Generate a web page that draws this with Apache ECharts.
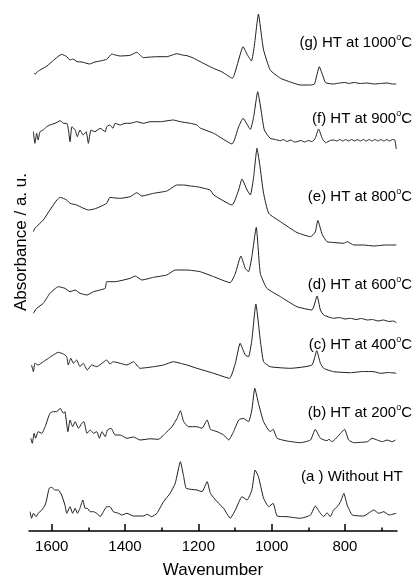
<!DOCTYPE html>
<html>
<head>
<meta charset="utf-8">
<script src="https://cdn.jsdelivr.net/npm/echarts@6/dist/echarts.min.js"></script>
<style>
  html, body { margin: 0; padding: 0; background: #fff; }
  #chart { width: 417px; height: 581px; }
</style>
</head>
<body>
<div id="chart"></div>
<script>
// FTIR spectra, [wavenumber, absorbance above own baseline] (a.u.)
var specG = [[1648,10.7],[1644,10],[1640,12],[1632,14],[1613,18],[1591,25],[1573,29.7],[1565,28.5],[1561,28],[1550,24],[1542,25],[1531,22.3],[1517,22],[1497,20],[1482,22],[1468,23],[1450,24.7],[1436,30],[1427,29],[1413,28],[1386,28.7],[1368,31.7],[1359,29],[1350,26.3],[1331,27],[1313,27.3],[1286,27.3],[1271,29],[1258,30.3],[1244,29],[1231,28.3],[1214,26],[1195,22.3],[1159,15.7],[1135,12],[1107,5.7],[1094,19],[1078,37.3],[1066,29],[1055,23],[1047,39],[1036,70],[1028,49],[1022,34],[1004,14],[976,5.7],[949,2],[922,-1],[894,-1],[883,0],[870,17.3],[861,9],[853,1.3],[831,0],[815,1],[799,1.5],[790,0.5],[775,1.5],[758,0.5],[740,1],[720,0],[703,0.5],[685,1],[670,0],[660,0]];
var specF = [[1650,8.3],[1646,-3.3],[1641,6.7],[1637,0],[1632,8.3],[1623,10],[1614,13.3],[1605,15],[1591,16.7],[1577,19.3],[1568,16.7],[1559,16.7],[1555,11.7],[1550,-1.7],[1545,13.3],[1536,10],[1530,3.3],[1523,10],[1514,5],[1506,8.3],[1500,-3.3],[1493,10],[1482,8.3],[1468,11.7],[1454,8.3],[1450,13.3],[1441,15],[1433,11.7],[1427,16.7],[1413,15],[1400,16.7],[1386,16.7],[1368,18.3],[1350,16.7],[1331,18.3],[1304,18.3],[1268,20],[1249,18.3],[1222,16.7],[1204,15],[1195,12],[1158,6.7],[1108,-4],[1090,13.3],[1078,21.7],[1058,10.7],[1049,23.3],[1038,48.3],[1031,35],[1020,10],[1004,1.7],[990,0.5],[976,-0.7],[968,0.5],[958,-1.5],[948,0],[938,-2],[931,-1.7],[920,-0.5],[910,-2],[900,-0.5],[890,-1.7],[881,1.7],[872,11],[862,1.7],[853,-2.7],[840,-0.5],[831,0],[822,-1],[814,0.5],[806,-1],[798,0.5],[790,-1],[782,0.5],[774,-1],[766,0.5],[758,-1],[750,0.5],[742,-1],[734,0.5],[726,-1],[718,0.5],[710,-1],[702,0.5],[694,-1],[686,0.5],[678,-1],[670,0.5],[664,0],[660,-9]];
var specE = [[1650,13.3],[1646,16.7],[1623,25],[1605,35],[1586,45],[1577,47.7],[1559,45],[1550,41.7],[1532,40],[1515,37],[1500,35],[1484,36],[1468,38.3],[1450,41.7],[1441,47.7],[1427,47],[1413,46.7],[1386,48.3],[1368,52.3],[1354,49],[1322,51.7],[1286,54],[1258,60],[1240,60],[1222,59],[1204,58.3],[1168,55],[1158,50],[1108,40],[1090,55],[1081,66],[1067,55],[1058,50],[1049,68.3],[1040,96.7],[1033,81.7],[1022,51.7],[1008,31.7],[976,23.3],[931,12.5],[894,8.3],[881,13],[874,24.5],[862,10.5],[849,3.3],[830,2.5],[803,1.7],[794,3.3],[776,0],[750,0],[721,-1],[690,0],[660,0]];
var specD = [[1650,6.7],[1641,11.7],[1623,16.7],[1605,26.7],[1582,33.3],[1564,31.7],[1550,28.3],[1536,30],[1523,26.7],[1504,25],[1486,28.3],[1468,30],[1454,31.7],[1450,38.3],[1427,38.3],[1404,40],[1386,41.7],[1372,44],[1354,40],[1322,42.7],[1286,45],[1263,50],[1231,50],[1195,48.3],[1158,43.3],[1113,37.3],[1099,46.7],[1084,64],[1072,51.7],[1063,48.3],[1054,63.3],[1042,92.7],[1031,46.7],[1013,31.7],[976,23.3],[931,13.3],[890,10],[876,24],[867,10],[858,5],[831,1.7],[815,2.5],[800,1],[785,1.7],[770,0.5],[755,1.5],[739,0],[725,0.5],[710,-1],[695,0],[680,-1.5],[668,-1],[660,-2.7]];
var specC = [[1655,7],[1650,0.3],[1646,8.7],[1637,7],[1623,10.3],[1609,13.7],[1596,17],[1582,19.7],[1568,18],[1559,15.3],[1555,7],[1548,13.7],[1541,8.7],[1532,12],[1523,5.3],[1514,8.7],[1503,2],[1491,7],[1477,5.3],[1463,8.7],[1450,12],[1441,8],[1432,10.3],[1413,8.7],[1395,7],[1377,10.3],[1359,3.7],[1322,5.3],[1295,7],[1268,10.3],[1249,8.7],[1231,7],[1204,3.7],[1158,-1.3],[1115,-6.3],[1099,8.7],[1086,28.7],[1072,17],[1063,15.3],[1054,32],[1043,68],[1031,32],[1022,10.3],[1004,5.3],[949,3.7],[890,7],[877,21.3],[867,8.7],[858,3.7],[831,0.3],[785,-0.7],[750,0.5],[721,0.3],[703,-1.3],[680,-0.5],[660,-1.3]];
var specB = [[1657,3.7],[1653,-1.3],[1648,8.7],[1644,3.7],[1637,10.3],[1627,8.7],[1618,15.3],[1605,28.7],[1596,30.3],[1586,30.3],[1577,33.7],[1568,28.7],[1564,30.3],[1556,10.3],[1550,22],[1543,15.3],[1536,20.3],[1527,13.7],[1518,18.7],[1512,20.3],[1504,8.7],[1495,12],[1486,8.7],[1477,10.3],[1470,3.7],[1463,10.3],[1454,5.3],[1448,12],[1438,13.7],[1427,7],[1413,7],[1395,3.7],[1377,5],[1359,2],[1331,3.2],[1309,2.7],[1290,8.7],[1272,15.3],[1258,23.7],[1249,31.3],[1240,20.3],[1227,15.3],[1204,15.3],[1190,13.7],[1176,22],[1167,12.7],[1149,10.3],[1131,7],[1117,2],[1104,10.3],[1090,22],[1078,23.7],[1063,20.3],[1054,32],[1046,53.7],[1036,38.7],[1022,20.3],[1004,10.3],[996,12.7],[985,3.7],[958,1],[922,-0.7],[894,2],[881,12.7],[867,3.7],[849,1.3],[844,2.7],[835,0.3],[812,8.7],[801,12.7],[790,2],[776,-0.7],[739,0.3],[726,3.7],[712,2],[698,0.3],[685,2],[671,0.3],[662,2]];
var specA = [[1659,5.3],[1655,-1.3],[1650,3.7],[1643,0.3],[1637,3.7],[1627,7],[1618,12],[1614,17],[1607,28.7],[1600,29.7],[1591,27],[1582,27],[1573,22],[1564,12],[1559,3.7],[1550,10.3],[1543,3.7],[1536,8.7],[1530,3.7],[1523,8.7],[1515,17],[1509,8.7],[1503,8.7],[1495,5.3],[1486,5.3],[1477,3.7],[1468,0.3],[1459,5.3],[1450,10.3],[1441,10.3],[1432,5.3],[1418,3.7],[1409,2],[1395,3.7],[1377,1],[1350,1],[1340,2.7],[1327,0.3],[1313,3.7],[1295,15.3],[1277,23.7],[1263,33.7],[1249,55.3],[1240,40.3],[1233,28.7],[1204,27],[1190,25.3],[1176,35.3],[1167,23.7],[1149,15.3],[1131,8.7],[1113,-1.3],[1099,7],[1081,20.3],[1067,17],[1054,27],[1045,47],[1036,40.3],[1022,18.7],[1008,10.3],[996,13.7],[985,1],[958,0.3],[922,-1.3],[894,2],[881,11],[867,3.7],[858,0.3],[849,4.3],[840,0.3],[831,7],[821,10.3],[812,15.3],[803,23.7],[794,12],[780,2],[749,1],[730,5.3],[721,7],[708,3.7],[694,5.3],[680,2],[660,3.7]];

var spectra = [specG, specF, specE, specD, specC, specB, specA];
var offsets = [447, 391, 286, 211, 159, 89, 14];   // vertical stacking offsets
var labels = [
  '(g) HT at 1000{sup|o}C',
  '(f) HT at 900{sup|o}C',
  '(e) HT at 800{sup|o}C',
  '(d) HT at 600{sup|o}C',
  '(c) HT at 400{sup|o}C',
  '(b) HT at 200{sup|o}C',
  '(a ) Without HT'
];
var majorTicks = [800, 1000, 1200, 1400, 1600];
var minorTicks = [700, 900, 1100, 1300, 1500];

var FONT = '"Liberation Sans", Arial, sans-serif';
var chart = echarts.init(document.getElementById('chart'));

var series = spectra.map(function (s, i) {
  return {
    type: 'line',
    xAxisIndex: 0,
    data: s.map(function (p) { return [p[0], p[1] + offsets[i]]; }),
    showSymbol: false,
    symbol: 'none',
    smooth: 0.15,
    lineStyle: { color: '#1c1c1c', width: 1 },
    silent: true,
    animation: false
  };
});

// label y positions (px)
var labelY = [43, 119, 197, 285, 345, 413, 477];
var graphics = labels.map(function (t, i) {
  var isA = i === 6;
  return {
    type: 'text',
    x: isA ? 301 : 412,
    y: labelY[i],
    style: {
      text: t,
      fill: '#000',
      font: '15px ' + FONT,
      lineHeight: 20,
      align: isA ? 'left' : 'right',
      verticalAlign: 'middle',
      rich: {
        sup: { fontSize: 9, fontFamily: FONT, lineHeight: 8, verticalAlign: 'top', fill: '#000' }
      }
    }
  };
});
graphics.push({
  type: 'text',
  x: 21,
  y: 242,
  rotation: Math.PI / 2,
  style: {
    text: 'Absorbance / a. u.',
    fill: '#000',
    font: '17px ' + FONT,
    align: 'center',
    verticalAlign: 'middle'
  }
});

var option = {
  animation: false,
  grid: { left: 29, right: 20, top: 5, bottom: 50, outerBoundsMode: 'none', containLabel: false },
  xAxis: [{
    type: 'value',
    inverse: true,
    min: 658,
    max: 1662,
    axisLine: { show: true, lineStyle: { color: '#000', width: 1.5 } },
    axisTick: { show: true, inside: true, length: 7, customValues: majorTicks, lineStyle: { color: '#000', width: 1.5 } },
    axisLabel: {
      customValues: majorTicks, color: '#000', fontSize: 15, fontFamily: FONT, margin: 8,
      formatter: function (v) { return String(v); }
    },
    splitLine: { show: false },
    name: 'Wavenumber',
    nameLocation: 'middle',
    nameGap: 31,
    nameTextStyle: { color: '#000', fontSize: 17, fontFamily: FONT }
  }, {
    type: 'value',
    inverse: true,
    min: 658,
    max: 1662,
    position: 'bottom',
    axisLine: { show: false },
    axisTick: { show: true, inside: true, length: 3.5, customValues: minorTicks, lineStyle: { color: '#000', width: 1.5 } },
    axisLabel: { show: false },
    splitLine: { show: false }
  }],
  yAxis: {
    type: 'value',
    min: 0,
    max: 526,
    show: false
  },
  graphic: graphics,
  series: series
};
chart.setOption(option);
</script>
</body>
</html>
